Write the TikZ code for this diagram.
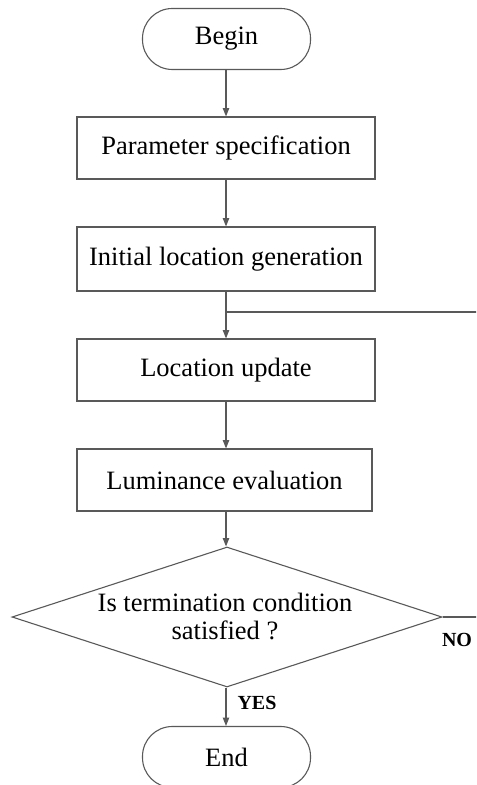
\documentclass[tikz,border=0pt]{standalone}
\usepackage{fontspec}
\setmainfont{Liberation Serif}
\usetikzlibrary{arrows.meta,shapes.geometric}
\begin{document}
\begin{tikzpicture}[x=0.5pt,y=-0.5pt,
  every node/.style={font=\fontsize{13.25}{14}\selectfont, text=black},
  ln/.style={draw=black!65, line width=0.55pt},
  arr/.style={ln, -{Triangle[width=3.2pt,length=4.2pt]}},
  procbox/.style={ln, rectangle, minimum width=149pt, minimum height=31pt, inner sep=0pt},
  termbox/.style={ln, rectangle, rounded corners=14.9pt, minimum width=84pt, minimum height=30.5pt, inner sep=0pt},
  lbl/.style={font=\fontsize{10}{12}\selectfont\bfseries}]
\useasboundingbox (0,0) rectangle (476,785);
\clip (0,0) rectangle (476,785);
\node[termbox] (begin) at (226.5,39) {Begin};
\node[procbox] (param) at (226,148) {Parameter specification};
\node[procbox, minimum height=32pt] (init) at (226,259) {Initial location generation};
\node[procbox] (upd) at (226,370) {Location update};
\node[procbox, minimum width=147.5pt] (lum) at (224.5,480) {Luminance evaluation};
\node[ln, diamond, minimum width=215pt, minimum height=70pt, inner sep=0pt] (dec) at (227,617) {};
\node[align=center] (dectext) at (225,616) {Is termination condition\\satisfied ?};
\node[termbox] (end) at (226.5,757) {End};
\coordinate (junc) at (226,312);
\coordinate (re1) at (495,312);
\coordinate (re2) at (495,617);
\node[lbl] (no) at (457,640) {NO};
\node[lbl] (yes) at (257,703) {YES};
\draw[arr] (begin.south -| 226,0) -- (param.north -| 226,0);
\draw[arr] (param.south -| 226,0) -- (init.north -| 226,0);
\draw[arr] (init.south -| 226,0) -- (upd.north -| 226,0);
\draw[arr] (upd.south -| 226,0) -- (lum.north -| 226,0);
\draw[arr] (lum.south -| 226,0) -- (dec.north -| 226,0);
\draw[arr] (dec.south -| 226,0) -- (end.north -| 226,0);
\draw[ln] (dec.east) -- (re2) -- (re1) -- (junc);
\end{tikzpicture}
\end{document}
